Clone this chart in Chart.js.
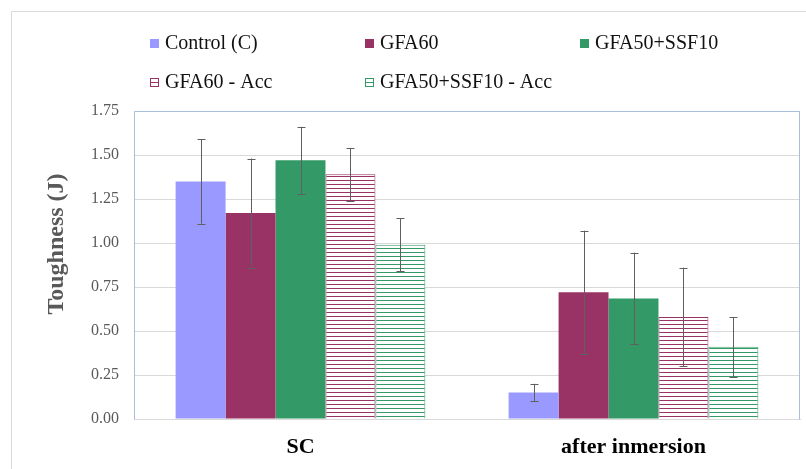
<!DOCTYPE html>
<html>
<head>
<meta charset="utf-8">
<script src="https://cdn.jsdelivr.net/npm/chart.js@4/dist/chart.umd.min.js"></script>
<style>
  html, body { margin: 0; padding: 0; background: #fff; }
  #wrap { position: relative; width: 806px; height: 469px; overflow: hidden; }
  #chart { position: absolute; left: 0; top: 0; }
</style>
</head>
<body>
<div id="wrap">
  <canvas id="chart" width="806" height="469"></canvas>
</div>
<script>
// ---- data ----
const categories = ['SC', 'after inmersion'];
const seriesNames = ['Control (C)', 'GFA60', 'GFA50+SSF10', 'GFA60 - Acc', 'GFA50+SSF10 - Acc'];
const controlValues   = [1.35, 0.15];
const controlErrors   = [0.24, 0.05];
const gfa60Values     = [1.17, 0.72];
const gfa60Errors     = [0.31, 0.35];
const gfa50Values     = [1.47, 0.685];
const gfa50Errors     = [0.19, 0.26];
const gfa60AccValues  = [1.39, 0.58];
const gfa60AccErrors  = [0.15, 0.28];
const gfa50AccValues  = [0.99, 0.41];
const gfa50AccErrors  = [0.15, 0.17];
const yTickValues = [0, 0.25, 0.5, 0.75, 1.0, 1.25, 1.5, 1.75];

// ---- styles ----
const C_CONTROL = '#9999FF', C_GFA60 = '#993366', C_GFA50 = '#339966';
const SERIF = '"Liberation Serif", "Times New Roman", serif';

function hatch(color) {
  const c = document.createElement('canvas');
  c.width = 8; c.height = 4;
  const x = c.getContext('2d');
  x.fillStyle = '#ffffff'; x.fillRect(0, 0, 8, 4);
  x.fillStyle = color; x.fillRect(0, 0, 8, 1);
  return x.createPattern(c, 'repeat');
}

const datasets = [
  { label: seriesNames[0], data: controlValues, errors: controlErrors, backgroundColor: C_CONTROL, borderWidth: 0, lgColor: C_CONTROL, hatched: false },
  { label: seriesNames[1], data: gfa60Values, errors: gfa60Errors, backgroundColor: C_GFA60, borderWidth: 0, lgColor: C_GFA60, hatched: false },
  { label: seriesNames[2], data: gfa50Values, errors: gfa50Errors, backgroundColor: C_GFA50, borderWidth: 0, lgColor: C_GFA50, hatched: false },
  { label: seriesNames[3], data: gfa60AccValues, errors: gfa60AccErrors, backgroundColor: hatch(C_GFA60), borderColor: C_GFA60, borderWidth: 1, lgColor: C_GFA60, hatched: true },
  { label: seriesNames[4], data: gfa50AccValues, errors: gfa50AccErrors, backgroundColor: hatch(C_GFA50), borderColor: C_GFA50, borderWidth: 1, lgColor: C_GFA50, hatched: true }
];
datasets.forEach(d => { d.categoryPercentage = 0.75; d.barPercentage = 1.0; d.borderSkipped = 'start'; });

// legend grid anchor points (box left, row centre)
const lgPos = [[150, 43], [365, 43], [580, 43], [150, 82], [365, 82]];

const frame = {
  id: 'frame',
  beforeDraw(chart) {
    const ctx = chart.ctx;
    ctx.save();
    ctx.strokeStyle = '#D9D9D9';
    ctx.lineWidth = 1;
    ctx.beginPath();
    ctx.moveTo(11.5, 469); ctx.lineTo(11.5, 11.5); ctx.lineTo(806, 11.5);
    ctx.stroke();
    ctx.restore();
  },
  beforeDatasetsDraw(chart) {
    const a = chart.chartArea, ctx = chart.ctx;
    ctx.save();
    ctx.strokeStyle = '#A7BFDA';
    ctx.lineWidth = 1;
    ctx.beginPath();
    ctx.moveTo(Math.round(a.left) + 0.5, Math.round(a.bottom) + 0.5);
    ctx.lineTo(Math.round(a.left) + 0.5, Math.round(a.top) + 0.5);
    ctx.lineTo(Math.round(a.right) - 0.5, Math.round(a.top) + 0.5);
    ctx.lineTo(Math.round(a.right) - 0.5, Math.round(a.bottom) + 0.5);
    ctx.stroke();
    ctx.restore();
  },
  afterDatasetsDraw(chart) {
    const ctx = chart.ctx, ys = chart.scales.y;
    ctx.save();
    ctx.strokeStyle = '#5f5f5f';
    ctx.lineWidth = 1;
    chart.data.datasets.forEach((ds, i) => {
      const meta = chart.getDatasetMeta(i);
      meta.data.forEach((el, j) => {
        const v = ds.data[j], e = ds.errors[j];
        const x = Math.round(el.x) + 0.5;
        const yt = ys.getPixelForValue(v + e), yb = ys.getPixelForValue(v - e);
        ctx.beginPath();
        ctx.moveTo(x, yt); ctx.lineTo(x, yb);
        ctx.moveTo(x - 4, Math.round(yt) + 0.5); ctx.lineTo(x + 4, Math.round(yt) + 0.5);
        ctx.moveTo(x - 4, Math.round(yb) + 0.5); ctx.lineTo(x + 4, Math.round(yb) + 0.5);
        ctx.stroke();
      });
    });
    ctx.restore();

    // y-axis title
    ctx.save();
    ctx.translate(57, 244);
    ctx.rotate(-Math.PI / 2);
    ctx.fillStyle = '#595959';
    ctx.font = 'bold 24px ' + SERIF;
    ctx.textAlign = 'center';
    ctx.textBaseline = 'middle';
    ctx.fillText('Toughness (J)', 0, 0);
    ctx.restore();

    // legend
    ctx.save();
    ctx.font = '20px ' + SERIF;
    ctx.textAlign = 'left';
    ctx.textBaseline = 'middle';
    chart.data.datasets.forEach((d, i) => {
      const [lx, cy] = lgPos[i];
      const top = cy - 4;
      if (d.hatched) {
        ctx.fillStyle = '#fff';
        ctx.fillRect(lx, top, 9, 9);
        ctx.strokeStyle = d.lgColor;
        ctx.lineWidth = 1;
        ctx.strokeRect(lx + 0.5, top + 0.5, 8, 8);
        ctx.beginPath();
        ctx.moveTo(lx, top + 4.5); ctx.lineTo(lx + 9, top + 4.5);
        ctx.stroke();
      } else {
        ctx.fillStyle = d.lgColor;
        ctx.fillRect(lx, top, 9, 9);
      }
      ctx.fillStyle = '#111';
      ctx.fillText(d.label, lx + 15, cy + 1);
    });
    ctx.restore();
  }
};

const chart = new Chart(document.getElementById('chart'), {
  type: 'bar',
  data: { labels: categories, datasets: datasets },
  options: {
    responsive: false,
    animation: false,
    layout: { padding: { top: 111, right: 6, left: 0, bottom: 0 } },
    plugins: { legend: { display: false }, tooltip: { enabled: false } },
    scales: {
      x: {
        grid: { display: false, drawTicks: false },
        border: { display: true, color: '#D9D9D9' },
        ticks: { color: '#000', font: { family: SERIF, size: 22, weight: 'bold' }, padding: 15 },
        afterFit(s) { s.height = 50; }
      },
      y: {
        min: 0, max: 1.75,
        afterBuildTicks(s) { s.ticks = yTickValues.map(v => ({ value: v })); },
        grid: { color: '#D9D9D9', drawTicks: false },
        border: { display: false },
        ticks: { color: '#595959', font: { family: SERIF, size: 16 }, padding: 15,
                 callback: v => Number(v).toFixed(2) },
        afterFit(s) { s.width = 134; }
      }
    }
  },
  plugins: [frame]
});
</script>
</body>
</html>
